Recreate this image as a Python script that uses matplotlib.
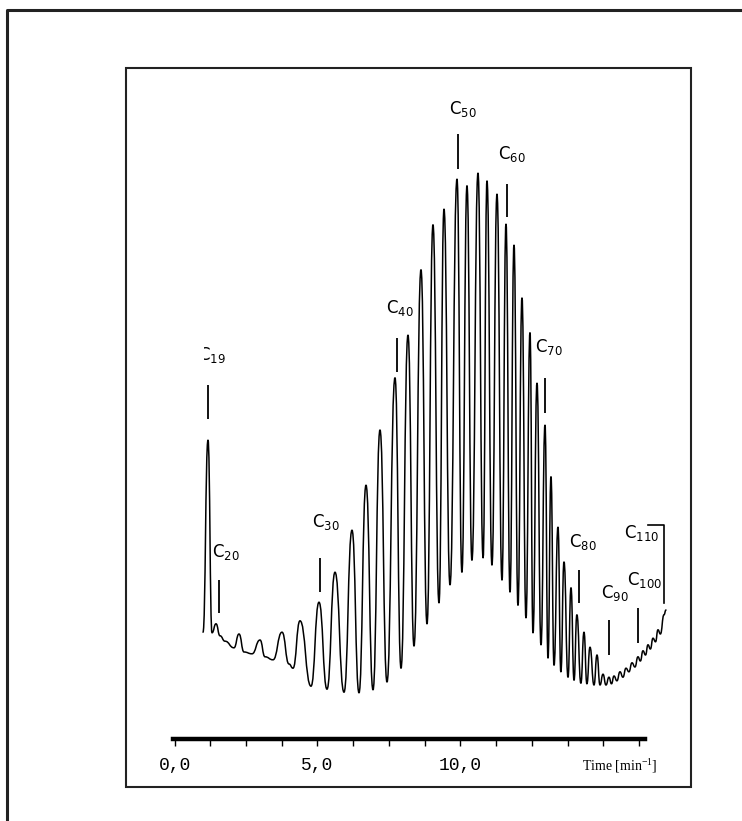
import matplotlib
matplotlib.use("Agg")
import matplotlib.pyplot as plt
from matplotlib.path import Path
from matplotlib.patches import PathPatch, Rectangle
from matplotlib.lines import Line2D

# turning points of the chromatogram trace: retention time (min) and detector signal
trace_time = [
    0.997, 1.171, 1.311, 1.451, 1.591, 1.766, 2.080, 2.255, 2.430, 2.710,
    2.990, 3.164, 3.444, 3.759, 4.003, 4.143, 4.388, 4.773,
    5.052, 5.332, 5.612, 5.927, 6.206, 6.451,
    6.696, 6.941, 7.185, 7.430, 7.710, 7.920, 8.164, 8.374, 8.619, 8.829,
    9.038, 9.248, 9.423, 9.633, 9.878, 10.050, 10.227, 10.400, 10.612, 10.790,
    10.927, 11.100, 11.276, 11.451, 11.591, 11.731, 11.871, 12.010, 12.150, 12.290,
    12.430, 12.535, 12.675, 12.815, 12.955, 13.060, 13.164, 13.270, 13.409, 13.510,
    13.619, 13.760, 13.864, 13.970, 14.070, 14.210, 14.318, 14.420, 14.528, 14.668,
    14.773, 14.878, 14.983, 15.087, 15.192, 15.280, 15.367, 15.470, 15.577, 15.680,
    15.787, 15.890, 15.997, 16.100, 16.206, 16.290, 16.381, 16.470, 16.556, 16.640,
    16.731, 16.820, 16.905, 16.990, 17.115, 17.185,
]
trace_signal = [
    17.8, 49.8, 17.7, 19.2, 17.2, 16.3, 15.2, 17.5, 14.5, 14.2,
    16.5, 13.7, 13.2, 17.8, 12.5, 11.8, 19.7, 8.8,
    22.8, 8.3, 27.8, 7.8, 34.8, 7.7,
    42.3, 8.2, 51.5, 9.5, 60.2, 11.8, 67.3, 15.5, 78.2, 19.2,
    85.7, 22.7, 88.3, 25.7, 93.3, 27.8, 92.2, 29.8, 94.3, 30.2,
    93.0, 29.0, 90.8, 26.5, 85.8, 24.5, 82.3, 22.3, 73.5, 20.2,
    67.7, 17.7, 59.3, 15.7, 52.3, 13.5, 43.7, 12.3, 35.3, 11.2,
    29.5, 10.3, 25.2, 9.8, 20.7, 9.3, 17.8, 9.2, 15.3, 9.0,
    14.0, 9.0, 10.8, 9.0, 10.3, 9.2, 10.5, 9.7, 11.2, 10.3,
    11.8, 11.2, 12.7, 12.0, 13.7, 13.0, 14.7, 14.0, 15.7, 15.0,
    16.8, 16.2, 18.2, 17.5, 20.7, 21.5,
]

# carbon-number annotations: marker bar (time, top, bottom) and label anchor
carbon_numbers = ["19", "20", "30", "40", "50", "60", "70", "80", "90", "100"]
marker_time = [1.154, 1.556, 5.087, 7.780, 9.913, 11.626, 12.955, 14.143, 15.192, 16.206]
marker_top = [59.0, 26.5, 30.2, 66.8, 100.8, 92.5, 60.2, 28.2, 19.8, 21.8]
marker_bottom = [53.3, 21.0, 24.5, 61.2, 95.0, 87.0, 54.3, 22.7, 14.0, 16.0]
label_time = [0.822, 1.311, 4.808, 7.395, 9.598, 11.311, 12.605, 13.794, 14.913, 15.822]
label_signal = [64.0, 31.2, 36.2, 71.8, 105.0, 97.5, 65.3, 32.8, 24.3, 26.5]

# C110 is marked with a bracket at the end of the run
c110_bracket_time = [16.556, 17.115, 17.115]
c110_bracket_signal = [35.7, 35.7, 22.7]
c110_label = (15.717, 34.3)

tick_positions = [i * 1.25 for i in range(14)]
tick_labels = ["0,0", "", "", "", "5,0", "", "", "", "10,0", "", "", "", "", ""]

W, H = 742, 821
fig = plt.figure(figsize=(W / 100, H / 100), dpi=100)
fig.patch.set_facecolor("white")

# outer page frame (open towards the right and bottom edges)
fig.add_artist(Line2D([7 / W, 7 / W, 1.0], [0.0, 1 - 10 / H, 1 - 10 / H],
                      transform=fig.transFigure, color="#222222", lw=2.2))
# inner frame around the chromatogram
fig.add_artist(Rectangle((126 / W, 1 - 787 / H), (691 - 126) / W, (787 - 68) / H,
                         transform=fig.transFigure, fill=False,
                         edgecolor="#222222", lw=1.5))

ax = fig.add_axes([126 / W, 1 - 739 / H, (691 - 126) / W, (739 - 68) / H])
ax.set_xlim(-1.696, 18.06)
ax.set_ylim(0, 111.83)
ax.patch.set_alpha(0)

# smooth trace through the turning points (horizontal tangents at each extremum)
pts = list(zip(trace_time, trace_signal))
verts = [pts[0]]
codes = [Path.MOVETO]
for (x0, y0), (x1, y1) in zip(pts[:-1], pts[1:]):
    dx = x1 - x0
    verts += [(x0 + 0.5 * dx, y0), (x1 - 0.5 * dx, y1), (x1, y1)]
    codes += [Path.CURVE4] * 3
ax.add_patch(PathPatch(Path(verts, codes), fill=False, edgecolor="black",
                       lw=1.1, capstyle="round", joinstyle="round"))

# marker bars and labels
ax.vlines(marker_time, marker_bottom, marker_top, color="black", lw=1.3)
ax.plot(c110_bracket_time, c110_bracket_signal, color="black", lw=1.2)

label_font = dict(family="DejaVu Sans", fontsize=12, ha="left", va="center")
for num, lt, ls in zip(carbon_numbers, label_time, label_signal):
    txt = ax.text(lt, ls, "C$_{\\mathregular{%s}}$" % num, **label_font)
    if num == "19":
        # left half of this label is cut off on the recorder sheet
        clip = Rectangle((204 / W, 0), 1, 1, transform=fig.transFigure)
        txt.set_clip_on(True)
        txt.set_clip_path(clip)
ax.text(c110_label[0], c110_label[1], "C$_{\\mathregular{110}}$", **label_font)

# time axis
for side in ("left", "right", "top"):
    ax.spines[side].set_visible(False)
ax.spines["bottom"].set_linewidth(3.2)
ax.spines["bottom"].set_bounds(-0.06, 16.44)
ax.set_yticks([])
ax.set_xticks(tick_positions)
ax.set_xticklabels(tick_labels, family="Liberation Mono", fontsize=13)
ax.tick_params(axis="x", direction="out", length=5, width=1.0, pad=8)

fig.text(582 / W, 1 - 766 / H, "Time [min$^{\\mathregular{-1}}$]",
         family="Liberation Serif", fontsize=10, ha="left", va="center")

fig.savefig("out.png", dpi=100)
